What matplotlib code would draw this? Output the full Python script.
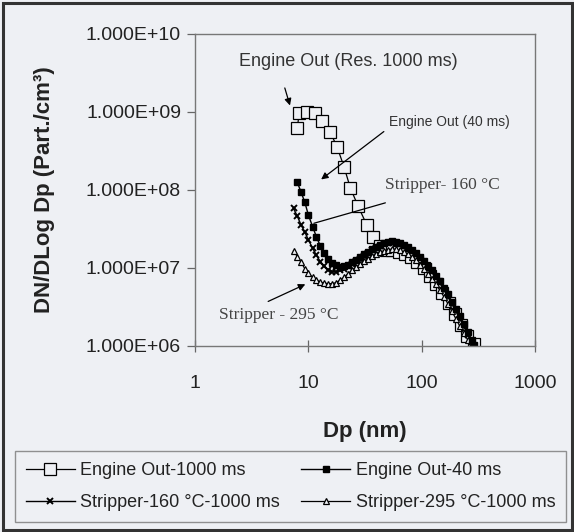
import numpy as np
import matplotlib
matplotlib.use("Agg")
import matplotlib.pyplot as plt
from matplotlib.ticker import FixedLocator, FuncFormatter, NullLocator
from matplotlib.patches import Rectangle

# ---------------------------------------------------------
# data
# ---------------------------------------------------------

dp_eo1000 = [8.0, 8.3, 9.7, 11.4, 13.1, 15.5, 17.9, 20.6, 23.5, 27.5, 32.7, 37.3,
             42.5, 48.5, 55.0, 62.5, 71.0, 80.5, 91.5, 104, 118, 134, 152, 173,
             196, 223, 253, 287]
n_eo1000 = [6.2e8, 9.8e8, 1.0e9, 9.8e8, 7.6e8, 5.6e8, 3.6e8, 2.0e8, 1.06e8, 6.2e7,
            3.6e7, 2.5e7, 1.9e7, 1.7e7, 1.68e7, 1.62e7, 1.52e7, 1.38e7, 1.2e7,
            1.0e7, 8.0e6, 6.3e6, 4.8e6, 3.6e6, 2.6e6, 1.85e6, 1.35e6, 1.05e6]

dp_fine = [7.4, 8.0, 8.6, 9.3, 10.0, 10.9, 11.8, 12.8, 13.8, 15.0, 16.3, 17.6, 19.1,
           20.7, 22.5, 24.4, 26.4, 28.7, 31.1, 33.7, 36.5, 39.6, 43.0, 46.6, 50.5,
           54.8, 59.4, 64.4, 69.8, 75.7, 82.0, 89.0, 96.5, 104.6, 113.4, 123.0,
           133.3, 144.6, 156.8, 170.0, 184.3, 199.9, 216.7, 235.0, 254.8, 276.3, 291]

n_eo40 = [np.nan, 1.25e8, 9.5e7, 7.0e7, 4.8e7, 3.4e7, 2.5e7, 1.9e7, 1.55e7, 1.3e7,
          1.15e7, 1.08e7, 1.04e7, 1.05e7, 1.1e7, 1.18e7, 1.27e7, 1.37e7, 1.5e7,
          1.62e7, 1.75e7, 1.88e7, 2.0e7, 2.1e7, 2.17e7, 2.2e7, 2.18e7, 2.1e7, 2.0e7,
          1.88e7, 1.72e7, 1.55e7, 1.38e7, 1.22e7, 1.07e7, 9.3e6, 8.0e6, 6.8e6,
          5.6e6, 4.6e6, 3.7e6, 3.0e6, 2.4e6, 1.9e6, 1.5e6, 1.18e6, 1.03e6]

n_s160 = [5.8e7, 4.6e7, 3.6e7, 2.9e7, 2.3e7, 1.8e7, 1.45e7, 1.2e7, 1.05e7, 9.5e6,
          9.0e6, 9.0e6, 9.3e6, 9.8e6, 1.05e7, 1.13e7, 1.22e7, 1.32e7, 1.44e7,
          1.56e7, 1.69e7, 1.82e7, 1.94e7, 2.04e7, 2.1e7, 2.13e7, 2.1e7, 2.03e7,
          1.93e7, 1.8e7, 1.65e7, 1.48e7, 1.32e7, 1.17e7, 1.03e7, 8.9e6, 7.6e6,
          6.4e6, 5.3e6, 4.3e6, 3.5e6, 2.8e6, 2.25e6, 1.78e6, 1.4e6, 1.12e6, 1.0e6]

n_s295 = [1.65e7, 1.4e7, 1.2e7, 9.8e6, 8.6e6, 7.6e6, 7.0e6, 6.6e6, 6.4e6, 6.3e6,
          6.3e6, 6.5e6, 7.0e6, 7.6e6, 8.5e6, 9.4e6, 1.03e7, 1.12e7, 1.22e7, 1.32e7,
          1.42e7, 1.52e7, 1.6e7, 1.67e7, 1.72e7, 1.75e7, 1.74e7, 1.68e7, 1.6e7,
          1.5e7, 1.38e7, 1.25e7, 1.1e7, 9.7e6, 8.5e6, 7.3e6, 6.2e6, 5.2e6, 4.3e6,
          3.5e6, 2.8e6, 2.25e6, 1.8e6, 1.45e6, 1.2e6, 1.05e6, np.nan]

labels = ["Engine Out-1000 ms", "Engine Out-40 ms",
          "Stripper-160 °C-1000 ms", "Stripper-295 °C-1000 ms"]

# ---------------------------------------------------------
# figure
# ---------------------------------------------------------

bg = "#eef0f4"
ink = "#222222"
plt.rcParams["font.family"] = ["Liberation Sans", "DejaVu Sans"]

fig = plt.figure(figsize=(5.74, 5.32), dpi=100, facecolor=bg)
ax = fig.add_axes([195 / 574, 1 - 346 / 532, 340 / 574, 312 / 532], facecolor=bg)

l1, = ax.plot(dp_eo1000, n_eo1000, color="black", lw=0.9, marker="s", ms=8.5,
              mfc=bg, mec="black", mew=0.9, label=labels[0])
l3, = ax.plot(dp_fine, n_s160, color="black", lw=1.0, marker="x", ms=5,
              mew=1.4, label=labels[2])
l4, = ax.plot(dp_fine, n_s295, color="black", lw=0.9, marker="^", ms=5,
              mfc=bg, mec="black", mew=0.9, label=labels[3])
l2, = ax.plot(dp_fine, n_eo40, color="black", lw=1.0, marker="s", ms=4.5,
              mfc="black", mec="black", label=labels[1])

ax.set_xscale("log")
ax.set_yscale("log")
ax.set_xlim(1, 1000)
ax.set_ylim(1e6, 1e10)

ax.xaxis.set_major_locator(FixedLocator([1, 10, 100, 1000]))
ax.xaxis.set_minor_locator(NullLocator())
ax.yaxis.set_major_locator(FixedLocator([1e6, 1e7, 1e8, 1e9, 1e10]))
ax.yaxis.set_minor_locator(NullLocator())
ax.xaxis.set_major_formatter(FuncFormatter(lambda v, p: "%d" % round(v)))
ax.yaxis.set_major_formatter(
    FuncFormatter(lambda v, p: "1.000E+%02d" % round(np.log10(v))))

ax.tick_params(axis="x", direction="inout", length=8, width=0.9, color="#666666",
               labelsize=14, labelcolor=ink, pad=17)
ax.tick_params(axis="y", direction="out", length=6, width=0.9, color="#666666",
               labelsize=14, labelcolor=ink, pad=4)
for s in ax.spines.values():
    s.set_color("#777777")
    s.set_linewidth(1.0)

ax.set_xlabel("Dp (nm)", fontsize=16, fontweight="bold", color=ink, labelpad=21)
ax.set_ylabel("DN/DLog Dp (Part./cm³)", fontsize=16, fontweight="bold",
              color=ink, labelpad=22)

# annotations
ax.text(22.4, 4.4e9, "Engine Out (Res. 1000 ms)", fontsize=13, color="#333333",
        ha="center", va="center")
ax.annotate("", xy=(7.0, 1.12e9), xytext=(6.1, 2.2e9),
            arrowprops=dict(arrowstyle="-|>", color="black", lw=0.9,
                            mutation_scale=10))

ax.text(52, 7.5e8, "Engine Out (40 ms)", fontsize=10, color="#333333",
        ha="left", va="center")
ax.annotate("", xy=(12.4, 1.3e8), xytext=(48.5, 5.9e8),
            arrowprops=dict(arrowstyle="-|>", color="black", lw=0.9,
                            mutation_scale=10))

ax.text(47.5, 1.16e8, "Stripper- 160 °C", fontsize=12.5, color="#444444",
        family=["Liberation Serif", "DejaVu Serif"], ha="left", va="center")
ax.annotate("", xy=(10.6, 3.66e7), xytext=(50.5, 7.0e7),
            arrowprops=dict(arrowstyle="-", color="black", lw=0.9))

ax.text(1.63, 2.5e6, "Stripper - 295 °C", fontsize=12.5, color="#444444",
        family=["Liberation Serif", "DejaVu Serif"], ha="left", va="center")
ax.annotate("", xy=(9.9, 6.4e6), xytext=(4.2, 3.6e6),
            arrowprops=dict(arrowstyle="-|>", color="black", lw=0.9,
                            mutation_scale=10))

# legend
leg = fig.legend([l1, l3, l2, l4], [labels[0], labels[2], labels[1], labels[3]],
                 ncol=2, loc="lower left", bbox_to_anchor=(15 / 574, 10 / 532),
                 fontsize=13, frameon=True, fancybox=False, numpoints=1,
                 handlelength=2.7, handletextpad=0.3, columnspacing=1.2,
                 borderpad=0.6, labelspacing=0.85, borderaxespad=0)
leg.get_frame().set_edgecolor("#777777")
leg.get_frame().set_facecolor(bg)
leg.get_frame().set_linewidth(1.0)
for t in leg.get_texts():
    t.set_color(ink)

# outer frame
fig.patches.append(Rectangle((0.006, 0.004), 0.99, 0.99, transform=fig.transFigure,
                             fill=False, edgecolor="#333333", lw=2.2))

fig.savefig("out.png", dpi=100, facecolor=bg)
